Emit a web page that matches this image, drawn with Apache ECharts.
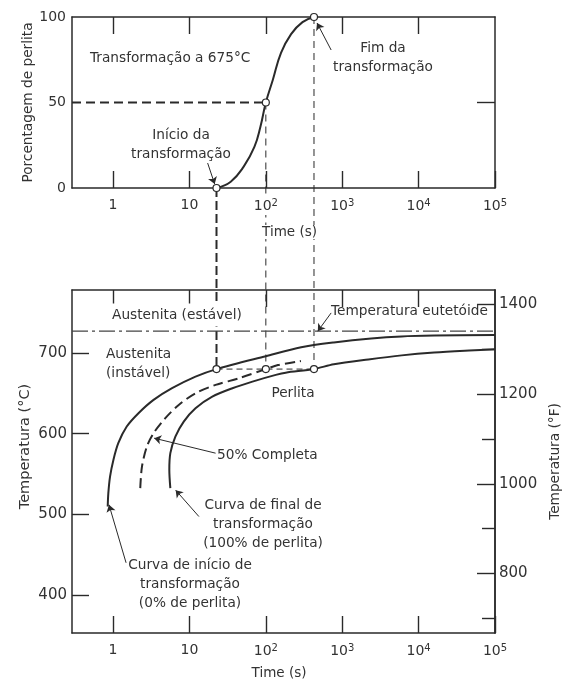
<!DOCTYPE html>
<html><head><meta charset="utf-8">
<script src="https://cdn.jsdelivr.net/npm/echarts@6/dist/echarts.min.js"></script>
<style>html,body{margin:0;padding:0;background:#fff}#c{width:563px;height:681px}</style>
</head><body><div id="c"></div>
<script>
// ---------- data ----------
const timeRange = [0.29, 100000];            // s
const timeTickValues = [1, 10, 100, 1000, 10000, 100000];
const timeTickLabels = ['1', '10', '10{s|2}', '10{s|3}', '10{s|4}', '10{s|5}'];
const pctRange = [0, 100];
const pctTicks = [0, 50, 100];
const tempRangeC = [353, 778];
const tempTicksC = [400, 500, 600, 700];
const tempTicksF = [800, 1000, 1200, 1400];
const tempMinorTicksF = [700, 900, 1100, 1300];

// isothermal transformation at ~675 C : % pearlite vs time
const pearliteTime = [22.6, 34.7, 51.3, 70.8, 85.1, 100, 123, 158, 214, 302, 427];
const pearlitePct  = [0, 3.7, 12.5, 24, 36, 50, 63, 79, 90, 97, 100];

const keyTime = [22.6, 100, 427];
const keyPct = [0, 50, 100];
const isoTemp = 680;
const eutectoidTemp = 727;

// TTT curves
const startTime = [0.851, 0.867, 0.913, 1.01, 1.17, 1.51, 2.15, 3.39, 5.92, 12.0, 22.6, 100, 290, 776, 2400, 6000, 16000, 100000];
const startTemp = [509.7, 526.3, 546.8, 567.5, 588.2, 608.8, 625.3, 641.8, 656.3, 670.6, 680, 696, 707, 713, 718, 720.5, 721.5, 722.3];
const halfTime = [2.27, 2.39, 2.77, 3.39, 4.83, 7.23, 12.0, 22.0, 44.5, 100, 144, 288];
const halfTemp = [532.5, 559.2, 584, 600.6, 619.2, 635.6, 650.1, 660.4, 668.7, 680, 685, 690];
const finishTime = [5.62, 5.45, 5.62, 6.54, 8.42, 12.0, 19.9, 36.5, 66.8, 135, 182, 427, 776, 2200, 6000, 16000, 46000, 100000];
const finishTemp = [532.5, 555.1, 575.8, 596.4, 615, 631.5, 645.9, 656.3, 664.5, 672.8, 675.6, 680, 686, 692, 697, 700.5, 703, 704.5];

// annotation arrows: [fromTime, fromValue, toTime, toValue]
const topArrows = [
  [17.3, 14.6, 21.4, 2.3],
  [716, 80.7, 468, 96.5]
];
const bottomArrows = [
  [716, 749.6, 479, 727],
  [22.0, 575.8, 3.45, 594.4],
  [13.3, 497.3, 6.6, 530],
  [1.48, 440, 0.885, 511.8]
];

// ---------- helpers ----------
const L = v => Math.log10(v);
const zip = (a, b) => a.map((v, i) => [L(v), b[i]]);
const XMIN = L(timeRange[0]), XMAX = L(timeRange[1]);
const tickPos = timeTickValues.map(L);
const c2f = c => c * 9 / 5 + 32;
const FONT = 'DejaVu Sans';
const INK = '#2a2a2a';
const TXT = '#333';

const labelFmt = v => {
  const i = tickPos.findIndex(p => Math.abs(p - v) < 1e-6);
  return i >= 0 ? timeTickLabels[i] : '';
};
const plainFmt = v => String(Math.round(v));
const richSup = { s: { fontSize: 10, fontFamily: FONT, color: TXT, verticalAlign: 'bottom', padding: [0, 0, 7, 0] } };
const axisLineStyle = { color: INK, width: 1.5 };
const tickStyle = { color: INK, width: 1.4 };

function xAxisBottom(grid, name, gap, namePad, bg) {
  return {
    type: 'value', gridIndex: grid, position: 'bottom', min: XMIN, max: XMAX,
    axisLine: { show: true, onZero: false, lineStyle: axisLineStyle },
    axisTick: { show: true, inside: true, length: 17, lineStyle: tickStyle, customValues: tickPos },
    axisLabel: { show: true, customValues: tickPos, formatter: labelFmt, fontSize: 14, fontFamily: FONT, color: TXT, margin: 10, rich: richSup, showMaxLabel: true, showMinLabel: true, hideOverlap: false, backgroundColor: bg },
    splitLine: { show: false },
    name: name, nameLocation: 'middle', nameGap: gap,
    nameTextStyle: { fontSize: 13.5, fontFamily: FONT, color: TXT, padding: namePad, backgroundColor: bg }
  };
}
function xAxisTop(grid) {
  return {
    type: 'value', gridIndex: grid, position: 'top', min: XMIN, max: XMAX,
    axisLine: { show: true, onZero: false, lineStyle: axisLineStyle },
    axisTick: { show: true, inside: true, length: 17, lineStyle: tickStyle, customValues: tickPos.slice(0, 5) },
    axisLabel: { show: false }, splitLine: { show: false }
  };
}
function yAxisBase(grid, pos, range) {
  return {
    type: 'value', gridIndex: grid, position: pos, min: range[0], max: range[1], offset: 0,
    axisLine: { show: true, onZero: false, lineStyle: axisLineStyle },
    splitLine: { show: false }
  };
}
const arrowML = arr => ({
  silent: true, animation: false, symbol: ['none', 'arrow'], symbolSize: 7, precision: 4,
  lineStyle: { type: 'solid', color: INK, width: 1 }, label: { show: false },
  data: arr.map(a => [{ coord: [L(a[0]), a[1]] }, { coord: [L(a[2]), a[3]] }])
});

const texts = [
  ['Transformação a 675°C', 90, 58, 'left', 'middle'],
  ['Início da\ntransformação', 181, 126, 'center', 'top'],
  ['Fim da\ntransformação', 383, 39, 'center', 'top'],
  ['Austenita (estável)', 177, 315, 'center', 'middle', true],
  ['Temperatura eutetóide', 331, 311, 'left', 'middle'],
  ['Austenita\n(instável)', 106, 345, 'left', 'top'],
  ['Perlita', 293, 393, 'center', 'middle'],
  ['50% Completa', 217, 455, 'left', 'middle'],
  ['Curva de final de\ntransformação\n(100% de perlita)', 263, 496, 'center', 'top'],
  ['Curva de início de\ntransformação\n(0% de perlita)', 190, 556, 'center', 'top']
];
const textGraphics = texts.map(t => ({
  type: 'text', silent: true, z: 10,
  style: Object.assign({ text: t[0], x: t[1], y: t[2], align: t[3], verticalAlign: t[4], font: '13.7px "' + FONT + '"', fill: TXT, lineHeight: 19 },
    t[5] ? { backgroundColor: '#fff', padding: [2, 1] } : {})
}));

const chart = echarts.init(document.getElementById('c'), null, { renderer: 'canvas' });
const option = {
  animation: false,
  backgroundColor: '#fff',
  grid: [
    { left: 72, top: 17, width: 423, height: 171, containLabel: false, outerBoundsMode: 'none' },
    { left: 72, top: 290, width: 423, height: 343, containLabel: false, outerBoundsMode: 'none' }
  ],
  xAxis: [
    xAxisBottom(0, 'Time (s)', 37, [0, 0, 0, 12], '#fff'),
    xAxisTop(0),
    xAxisBottom(1, 'Time (s)', 33, [0, 9, 0, 0], 'transparent'),
    xAxisTop(1)
  ],
  yAxis: [
    Object.assign(yAxisBase(0, 'left', pctRange), {
      axisTick: { show: false },
      axisLabel: { customValues: pctTicks, formatter: plainFmt, fontSize: 14, fontFamily: FONT, color: TXT, margin: 6 },
      name: 'Porcentagem de perlita', nameLocation: 'middle', nameGap: 37, nameRotate: 90, nameMoveOverlap: false,
      nameTextStyle: { fontSize: 13.7, fontFamily: FONT, color: TXT } }),
    Object.assign(yAxisBase(0, 'right', pctRange), {
      axisTick: { show: true, inside: true, length: 18, lineStyle: tickStyle, customValues: [50] },
      axisLabel: { show: false } }),
    Object.assign(yAxisBase(1, 'left', tempRangeC), {
      axisTick: { show: true, inside: true, length: 17, lineStyle: tickStyle, customValues: tempTicksC },
      axisLabel: { customValues: tempTicksC, formatter: plainFmt, fontSize: 15, fontFamily: FONT, color: TXT, margin: 5 },
      name: 'Temperatura (°C)', nameLocation: 'middle', nameGap: 39, nameRotate: 90, nameMoveOverlap: false,
      nameTextStyle: { fontSize: 14.5, fontFamily: FONT, color: TXT, padding: [0, 0, 0, 30] } }),
    Object.assign(yAxisBase(1, 'right', [c2f(tempRangeC[0]), c2f(tempRangeC[1])]), {
      axisTick: { show: true, inside: true, length: 18, lineStyle: tickStyle, customValues: tempTicksF },
      axisLabel: { customValues: tempTicksF, formatter: plainFmt, fontSize: 15, fontFamily: FONT, color: TXT, margin: 4 },
      name: 'Temperatura (°F)', nameLocation: 'middle', nameGap: 44, nameRotate: 90,
      nameTextStyle: { fontSize: 13.7, fontFamily: FONT, color: TXT } }),
    Object.assign(yAxisBase(1, 'right', [c2f(tempRangeC[0]), c2f(tempRangeC[1])]), {
      axisTick: { show: true, inside: true, length: 13, lineStyle: tickStyle, customValues: tempMinorTicksF },
      axisLabel: { show: false } })
  ],
  series: [
    { id: 'scurve', type: 'line', xAxisIndex: 0, yAxisIndex: 0, data: zip(pearliteTime, pearlitePct),
      smooth: 0.45, symbol: 'none', lineStyle: { color: INK, width: 2 }, z: 3,
      markLine: arrowML(topArrows) },
    { type: 'line', xAxisIndex: 0, yAxisIndex: 0, data: [[XMIN, 50], [L(100), 50]],
      symbol: 'none', lineStyle: { color: INK, width: 1.8, type: [9, 5] }, z: 2 },
    { type: 'scatter', xAxisIndex: 0, yAxisIndex: 0, data: zip(keyTime, keyPct), clip: false,
      symbol: 'circle', symbolSize: 7, itemStyle: { color: '#fff', borderColor: INK, borderWidth: 1.2, opacity: 1 }, z: 6 },

    { id: 'start', type: 'line', xAxisIndex: 2, yAxisIndex: 2, data: zip(startTime, startTemp),
      smooth: 0.3, symbol: 'none', lineStyle: { color: INK, width: 2 }, z: 3,
      markLine: arrowML(bottomArrows) },
    { type: 'line', xAxisIndex: 2, yAxisIndex: 2, data: zip(halfTime, halfTemp),
      smooth: 0.3, symbol: 'none', lineStyle: { color: INK, width: 2, type: [10, 5] }, z: 3 },
    { type: 'line', xAxisIndex: 2, yAxisIndex: 2, data: zip(finishTime, finishTemp),
      smooth: 0.3, symbol: 'none', lineStyle: { color: INK, width: 2 }, z: 3 },
    { type: 'line', xAxisIndex: 2, yAxisIndex: 2, data: [[XMIN, eutectoidTemp], [XMAX, eutectoidTemp]],
      symbol: 'none', lineStyle: { color: '#444', width: 1.2, type: [16, 4, 3, 4] }, z: 2 },
    { type: 'line', xAxisIndex: 2, yAxisIndex: 2, data: keyTime.map(t => [L(t), isoTemp]),
      symbol: 'none', lineStyle: { color: INK, width: 1, type: [6, 4] }, z: 2 },
    { type: 'scatter', xAxisIndex: 2, yAxisIndex: 2, data: keyTime.map(t => [L(t), isoTemp]), clip: false,
      symbol: 'circle', symbolSize: 7, itemStyle: { color: '#fff', borderColor: INK, borderWidth: 1.2, opacity: 1 }, z: 6 }
  ],
  graphic: { elements: textGraphics }
};
chart.setOption(option);

// vertical connectors from the % curve points down to the isothermal points
const connectors = keyTime.map((t, i) => {
  const p1 = chart.convertToPixel({ seriesId: 'scurve' }, [L(t), keyPct[i]]);
  const p2 = chart.convertToPixel({ seriesId: 'start' }, [L(t), isoTemp]);
  const first = i === 0;
  return {
    type: 'line', silent: true, z: -1,
    shape: { x1: p1[0], y1: p1[1], x2: p2[0], y2: p2[1] },
    style: { stroke: INK, lineWidth: first ? 2 : 1, lineDash: first ? [9, 4] : [7, 5] }
  };
});
chart.setOption({ graphic: { elements: textGraphics.concat(connectors) } });
</script>
</body></html>
